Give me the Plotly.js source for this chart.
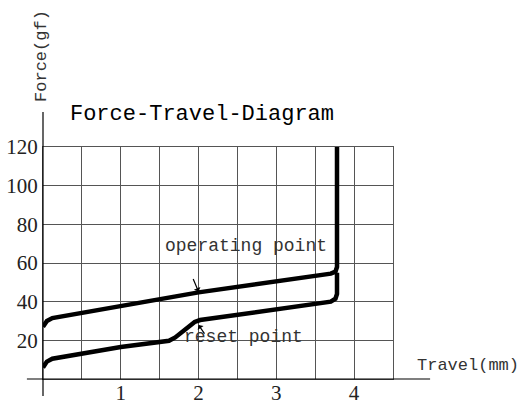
<!DOCTYPE html>
<html>
<head>
<meta charset="utf-8">
<script src="https://cdn.plot.ly/plotly-3.0.1.min.js"></script>
<style>html,body{margin:0;padding:0;background:#fff}</style>
</head>
<body>
<div id="chart" style="width:524px;height:405px"></div>
<script>
// Operating (press) curve: travel in mm, force in gf
const travelOperating = [0, 0.05, 0.12, 1.0, 2.0, 3.7, 3.76, 3.78, 3.78];
const forceOperating  = [27, 30, 31.5, 37.5, 44.8, 54.5, 55.5, 58, 121];
// Reset (return) curve
const travelReset = [0, 0.05, 0.12, 1.0, 1.62, 1.7, 1.95, 2.02, 3.7, 3.76, 3.78, 3.78];
const forceReset  = [6, 9, 10.5, 16.5, 19.8, 21.5, 29.5, 30.5, 40, 41.5, 44, 55];

const xTickVals = [1, 2, 3, 4];
const xTickText = ['1', '2', '3', '4'];
const yTickVals = [20, 40, 60, 80, 100, 120];
const yTickText = ['20', '40', '60', '80', '100', '120'];

const titleText = 'Force-Travel-Diagram';
const xTitle = 'Travel(mm)';
const yTitle = 'Force(gf)';
const labelOperating = 'operating point';
const labelReset = 'reset point';

const mono = 'Liberation Mono, DejaVu Sans Mono, monospace';
const serif = 'Liberation Serif, DejaVu Serif, serif';

const traces = [
  {x: travelOperating, y: forceOperating, type: 'scatter', mode: 'lines',
   line: {color: '#000', width: 4.5}, hoverinfo: 'skip'},
  {x: travelReset, y: forceReset, type: 'scatter', mode: 'lines',
   line: {color: '#000', width: 4.5}, hoverinfo: 'skip'}
];

const layout = {
  width: 524, height: 405,
  margin: {l: 43, r: 131, t: 147, b: 26},
  paper_bgcolor: '#fff', plot_bgcolor: '#fff',
  showlegend: false,
  title: {text: titleText, x: 0.3855, y: 0.7235, xanchor: 'center', yanchor: 'middle',
          font: {family: mono, size: 22, color: '#000'}},
  xaxis: {range: [0, 4.5], tickvals: xTickVals, ticktext: xTickText,
          showgrid: true, gridcolor: '#555', gridwidth: 1,
          minor: {dtick: 0.5, tick0: 0, showgrid: true, gridcolor: '#555', gridwidth: 1},
          zeroline: false, showline: true, mirror: true, linecolor: '#555', linewidth: 1,
          ticks: '', ticklabelstandoff: -5,
          tickfont: {family: serif, size: 21, color: '#222'}, fixedrange: true},
  yaxis: {range: [0, 120], tickvals: yTickVals, ticktext: yTickText,
          showgrid: true, gridcolor: '#555', gridwidth: 1,
          zeroline: false, showline: true, mirror: true, linecolor: '#555', linewidth: 1,
          ticks: '', ticklabelstandoff: 0,
          tickfont: {family: serif, size: 21, color: '#222'}, fixedrange: true},
  shapes: [
    {type: 'line', xref: 'paper', yref: 'paper', x0: 0, x1: 0, y0: -0.073, y1: 1.151,
     line: {color: '#000', width: 1.2}},
    {type: 'line', xref: 'paper', yref: 'paper', x0: -0.046, x1: 1.106, y0: 0, y1: 0,
     line: {color: '#000', width: 1.2}}
  ],
  annotations: [
    {text: labelOperating, x: 2.61, y: 68.7, xref: 'x', yref: 'y', showarrow: false,
     font: {family: mono, size: 18, color: '#333'}},
    {text: labelReset, x: 2.58, y: 21.9, xref: 'x', yref: 'y', showarrow: false,
     font: {family: mono, size: 18, color: '#333'}},
    {text: '', x: 2.0, y: 45.2, xref: 'x', yref: 'y', ax: -6, ay: -14,
     showarrow: true, arrowhead: 1, arrowsize: 1, arrowwidth: 1.2, arrowcolor: '#000'},
    {text: '', x: 2.0, y: 27.9, xref: 'x', yref: 'y', ax: 7, ay: 10,
     showarrow: true, arrowhead: 1, arrowsize: 1, arrowwidth: 1.2, arrowcolor: '#000'},
    {text: xTitle, x: 1.214, y: 0.06, xref: 'paper', yref: 'paper', showarrow: false,
     xanchor: 'center', yanchor: 'middle',
     font: {family: mono, size: 17, color: '#333'}},
    {text: yTitle, x: -0.006, y: 1.392, xref: 'paper', yref: 'paper', showarrow: false,
     textangle: -90, xanchor: 'center', yanchor: 'middle',
     font: {family: mono, size: 17, color: '#333'}}
  ]
};

Plotly.newPlot('chart', traces, layout, {displayModeBar: false, staticPlot: true});
</script>
</body>
</html>
